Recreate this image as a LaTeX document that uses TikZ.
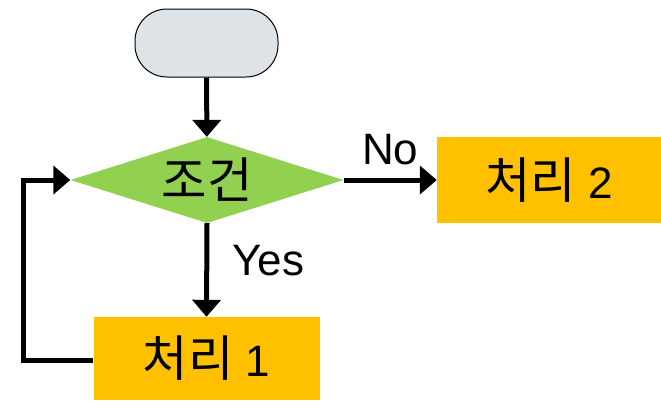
\documentclass[tikz,border=0pt]{standalone}
\usepackage{fontspec}
\setmainfont{Liberation Sans}
\newfontfamily\kr[Scale=1.12]{Noto Sans CJK KR}
\usetikzlibrary{shapes.geometric,arrows.meta}

\definecolor{startgray}{HTML}{DEE3E7}
\definecolor{condgreen}{HTML}{92D050}
\definecolor{procorange}{HTML}{FFC000}

\def\H{86}

\begin{document}
\begin{tikzpicture}[x=1pt, y=-1pt,
        every node/.style={font=\fontsize{44}{50}\selectfont, inner sep=0pt},
        flow/.style={line width=5pt, -{Triangle[length=17pt,width=28pt]}},
        startbox/.style={draw, line width=1pt, fill=startgray, rectangle, rounded corners=32pt, minimum width=143pt, minimum height=68pt},
        condbox/.style={diamond, aspect=3.17, fill=condgreen, minimum width=273pt, minimum height=\H pt},
        procbox/.style={rectangle, fill=procorange, minimum width=226pt, minimum height=\H pt}]
            \useasboundingbox (0, 0) rectangle (661, 400);

            \node[startbox] (start) at (206.5, 43) {};
            \node[condbox] (cond) at (207, 180) {\kr 조건};
            \node[procbox, minimum width=224pt] (proc2) at (549, 180) {{\kr 처리} 2};
            \node[procbox, minimum height=83pt] (proc1) at (206.5, 358.5) {{\kr 처리} 1};
            \coordinate (loop) at (23, 360);

            \draw[flow] (start) -- (cond);
            \draw[flow] (cond.east) -- node[anchor=south, yshift=13pt] {No} (proc2.west);
            \draw[flow] (cond.south) -- node[anchor=west, xshift=23pt, yshift=9pt] {Yes} (proc1.north);
            \draw[flow] (proc1.west |- loop) -- (loop) |- (cond.west);

        \end{tikzpicture}
\end{document}
